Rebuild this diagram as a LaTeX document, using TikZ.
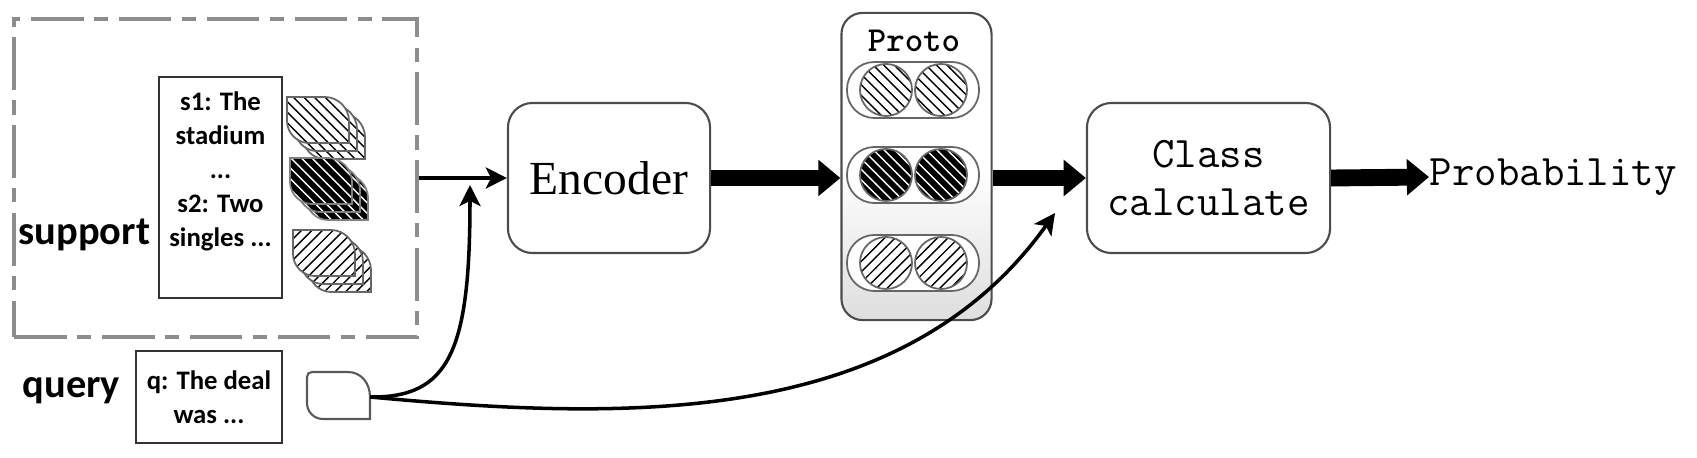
\documentclass[tikz,border=0pt]{standalone}
\usepackage{fontspec}
\usetikzlibrary{arrows.meta,patterns,positioning}
\newfontfamily\labelfont{Carlito}
\newfontfamily\encfont{Liberation Serif}
\newcommand{\leafpath}{(0,0) -- (38,0) .. controls (51,0) and (62,11) .. (62,24) -- (62,46) -- (22,46) .. controls (10,46) and (0,36) .. (0,24) -- cycle}

\begin{document}
\begin{tikzpicture}[x=0.01cm,y=-0.01cm,>={Stealth[length=6pt,width=6pt,inset=1.5pt]},
    dashbox/.style={draw=black!45,line width=1pt,dash pattern=on 15pt off 3pt on 4pt off 3pt,
                    minimum width=4.03cm,minimum height=3.18cm},
    txtbox/.style={draw=black!80,line width=0.6pt,inner sep=0pt},
    small/.style={font=\labelfont\bfseries\fontsize{7.6}{9.7}\selectfont,align=center},
    lbl/.style={font=\labelfont\bfseries\fontsize{11.5}{13}\selectfont,inner sep=0pt},
    block/.style={draw=black!70,line width=0.6pt,rounded corners=7pt,minimum height=1.5cm,align=center},
    mono/.style={font=\ttfamily\fontsize{12.4}{13.4}\selectfont},
    capsule/.style={draw=black!60,line width=0.5pt,fill=white,minimum width=1.32cm,
                    minimum height=0.56cm,rounded corners=7.8pt,inner sep=0pt},
    dotw/.style={circle,draw=black!60,line width=0.5pt,minimum size=0.52cm,inner sep=0pt,
                 preaction={fill=white},pattern=north west lines},
    dotb/.style={circle,draw=black!60,line width=0.5pt,minimum size=0.52cm,inner sep=0pt,
                 preaction={fill=black},pattern=north west lines,pattern color=white},
    dotn/.style={circle,draw=black!60,line width=0.5pt,minimum size=0.52cm,inner sep=0pt,
                 preaction={fill=white},pattern=north east lines},
    leafw/.style={draw=black!60,line width=0.5pt,preaction={fill=white},pattern=north west lines},
    leafb/.style={draw=black!50,line width=0.5pt,preaction={fill=black},pattern=north west lines,pattern color=white},
    leafn/.style={draw=black!60,line width=0.5pt,preaction={fill=white},pattern=north east lines},
    thin/.style={->,line width=1pt},
    fat/.style={-{Triangle[length=6.3pt,width=10pt]},line width=4.8pt}]

  \useasboundingbox (0,0) rectangle (1697,458);

  % support set
  \node[dashbox] (suppbox) at (215.5,178) {};
  \node[lbl,anchor=base west] (suplbl) at (18,245) {support};
  \node[txtbox,minimum width=1.23cm,minimum height=2.21cm] (sbox) at (220.5,187.5) {};
  \node[small,anchor=north,inner sep=0pt,below=0.15cm of sbox.north] (stext)
    {s1: The\\stadium\\...\\s2: Two\\singles ...};
  \foreach \lx/\ly/\st in {287/97/leafw,290/158/leafb,293/230/leafn}
    \foreach \d in {16,8,0}
      \path[\st,shift={(\lx+\d,\ly+\d)}] \leafpath;

  % query
  \node[lbl,anchor=base west] (qlbl) at (22,398) {query};
  \node[txtbox,small,minimum width=1.46cm,minimum height=0.92cm] (qbox) at (209,397)
    {q: The deal\\was ...};
  \draw[draw=black!65,line width=0.6pt,fill=white] (312,372) -- (348,372)
    .. controls (361,372) and (370,383) .. (370,397) coordinate (qout) -- (370,419) -- (323,419)
    .. controls (314,419) and (307,412) .. (307,403) -- (307,377)
    .. controls (307,374) and (309,372) .. (312,372) -- cycle;

  % blocks
  \node[block,minimum width=2.02cm,font=\encfont\fontsize{13.5}{16}\selectfont] (enc) at (609,178) {Encoder};
  \node[draw=black!70,line width=0.6pt,rounded corners=6pt,minimum width=1.5cm,minimum height=3.07cm,
        top color=white,bottom color=black!13,middle color=white] (proto) at (916.5,166.5) {};
  \node[font=\ttfamily\bfseries\fontsize{10}{12}\selectfont] (plbl) at (914,41) {Proto};
  \foreach \r/\y/\st in {1/90/dotw,2/175/dotb,3/263/dotn}{
    \node[capsule] (cap\r) at (913,\y) {};
    \node[\st] (c\r a) at (886,\y) {};
    \node[\st] (c\r b) at (941,\y) {};
  }
  \node[block,minimum width=2.43cm,mono] (cls) at (1208.5,178) {Class\\calculate};
  \node[mono,anchor=west,inner sep=0pt] (prob) at (1429,177) {Probability};

  \coordinate (join) at (470,185);
  \coordinate (cin) at (1055,213);

  % connectors
  \draw[thin] (suppbox.east) -- (enc.west);
  \draw[thin] (qout) .. controls (450,398) and (470,350) .. (join);
  \draw[thin] (qout) .. controls (620,420) and (900,430) .. (cin);
  \draw[fat] (enc.east) -- (enc.east -| proto.west);
  \draw[fat] (cls.west -| proto.east) -- (cls.west);
  \draw[fat] (cls.east) -- (prob.west);
\end{tikzpicture}
\end{document}
